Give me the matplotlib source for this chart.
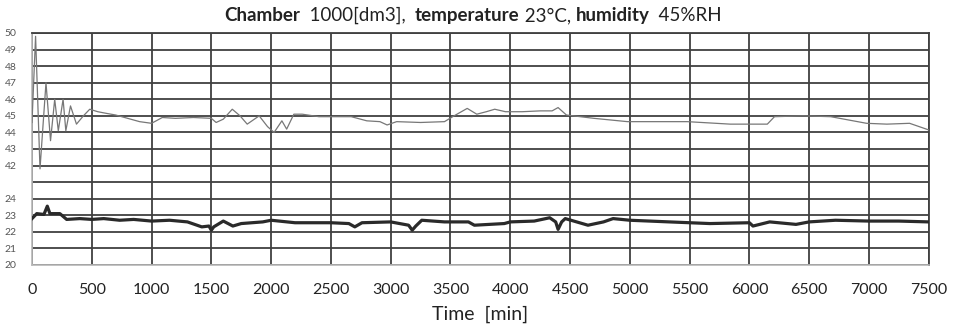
import numpy as np
import matplotlib
matplotlib.use('Agg')
import matplotlib.pyplot as plt
from matplotlib.ticker import FixedLocator, FixedFormatter

plt.rcParams['font.family'] = ['Lato', 'DejaVu Sans']

# humidity [%RH]
hum_t = [0, 30, 67, 117, 155, 190, 220, 260, 283, 322, 372, 430, 483, 550, 622,
         700, 800, 900, 1000, 1090, 1200, 1350, 1500, 1540, 1600, 1675, 1740,
         1800, 1900, 1970, 2025, 2090, 2130, 2190, 2260, 2400, 2550, 2670, 2800,
         2910, 2970, 3050, 3250, 3450, 3530, 3640, 3720, 3800, 3870, 3960, 4100,
         4250, 4350, 4400, 4470, 4700, 4980, 5200, 5480, 5840, 6150, 6210, 6450,
         6680, 6980, 7150, 7340, 7500]
hum_v = [44.6, 49.8, 41.8, 47.0, 43.5, 46.0, 44.1, 46.0, 44.1, 45.6, 44.5, 45.0,
         45.4, 45.25, 45.15, 45.05, 44.85, 44.65, 44.55, 44.9, 44.85, 44.9, 44.85,
         44.6, 44.8, 45.4, 45.0, 44.5, 45.0, 44.35, 44.0, 44.7, 44.2, 45.1, 45.1,
         44.95, 44.95, 44.95, 44.7, 44.65, 44.45, 44.65, 44.6, 44.65, 45.0, 45.45,
         45.1, 45.25, 45.4, 45.25, 45.25, 45.3, 45.3, 45.5, 45.05, 44.85, 44.65,
         44.65, 44.65, 44.5, 44.5, 44.95, 45.0, 44.95, 44.55, 44.5, 44.55, 44.15]

# temperature [C]
temp_t = [0, 40, 100, 128, 150, 233, 290, 400, 500, 600, 733, 850, 1000, 1150,
          1300, 1420, 1480, 1500, 1520, 1600, 1680, 1750, 1930, 2000, 2200, 2500,
          2650, 2700, 2760, 3000, 3150, 3180, 3210, 3260, 3450, 3650, 3700, 3950,
          4000, 4200, 4330, 4380, 4400, 4430, 4460, 4650, 4780, 4860, 5000, 5330,
          5670, 6000, 6030, 6170, 6390, 6500, 6720, 7000, 7250, 7500]
temp_v = [22.8, 23.1, 23.05, 23.55, 23.1, 23.1, 22.75, 22.8, 22.75, 22.8, 22.7,
          22.75, 22.65, 22.7, 22.6, 22.3, 22.35, 22.1, 22.3, 22.65, 22.35, 22.5,
          22.6, 22.7, 22.55, 22.55, 22.5, 22.3, 22.55, 22.6, 22.4, 22.1, 22.35,
          22.7, 22.6, 22.6, 22.4, 22.5, 22.6, 22.65, 22.85, 22.6, 22.15, 22.6,
          22.8, 22.4, 22.6, 22.8, 22.7, 22.6, 22.5, 22.55, 22.35, 22.6, 22.45,
          22.6, 22.7, 22.65, 22.65, 22.6]

x_ticks = list(range(0, 7501, 500))
y_ticks = [20, 21, 22, 23, 24, 41, 42, 43, 44, 45, 46, 47, 48, 49, 50]
y_labels = ['20', '21', '22', '23', '24', '', '42', '43', '44', '45', '46',
            '47', '48', '49', '50']


# broken y axis: 20..24 and 41..50 share one scale
def fwd(v):
    v = np.asarray(v, dtype=float)
    return np.where(v <= 24, v - 20, np.where(v >= 41, v - 36, 4 + (v - 24) / 17.0))


def inv(p):
    p = np.asarray(p, dtype=float)
    return np.where(p <= 4, p + 20, np.where(p >= 5, p + 36, 24 + (p - 4) * 17.0))


fig = plt.figure(figsize=(9.55, 3.35), dpi=100)
ax = fig.add_axes([0.0335, 0.209, 0.939, 0.6925])
ax.set_yscale('function', functions=(fwd, inv))
ax.set_xlim(0, 7500)
ax.set_ylim(20, 50)

ax.yaxis.set_major_locator(FixedLocator(y_ticks))
ax.yaxis.set_major_formatter(FixedFormatter(y_labels))
ax.yaxis.set_minor_locator(FixedLocator([]))
ax.set_xticks(x_ticks)

ax.grid(True, color='#404040', lw=1.3)
ax.set_axisbelow(True)
for s in ['left', 'bottom']:
    ax.spines[s].set_color('#b8b8b8')
    ax.spines[s].set_linewidth(1.2)
for s in ['top', 'right']:
    ax.spines[s].set_color('#404040')
    ax.spines[s].set_linewidth(1.3)

ax.tick_params(axis='y', length=0, pad=11, labelsize=7.5, labelcolor='#555555')
ax.tick_params(axis='x', length=0, pad=13, labelsize=11.5, labelcolor='#222222')

ax.plot(hum_t, hum_v, color='#777777', lw=0.9, zorder=3)
ax.plot(temp_t, temp_v, color='#2a2a2a', lw=2.3, zorder=3)

ax.set_xlabel('Time  [min]', fontsize=14, color='#222222', labelpad=6)

# title with bold and normal parts
parts = [('Chamber', 'bold'), ('  1000[dm3],  ', 'normal'), ('temperature', 'bold'),
         (' 23°C, ', 'normal'), ('humidity', 'bold'), ('  45%RH', 'normal')]
texts = []
for s, w in parts:
    t = fig.text(0, 0.953, s, fontsize=13.5, weight=w, va='center', ha='left',
                 color='#222222')
    texts.append(t)
fig.canvas.draw()
r = fig.canvas.get_renderer()
widths = [t.get_window_extent(r).width for t in texts]
total = sum(widths)
x0 = 473 - total / 2
for t, wd in zip(texts, widths):
    t.set_position((x0 / 955, 0.953))
    x0 += wd

fig.savefig('out.png', dpi=100, facecolor='white')
